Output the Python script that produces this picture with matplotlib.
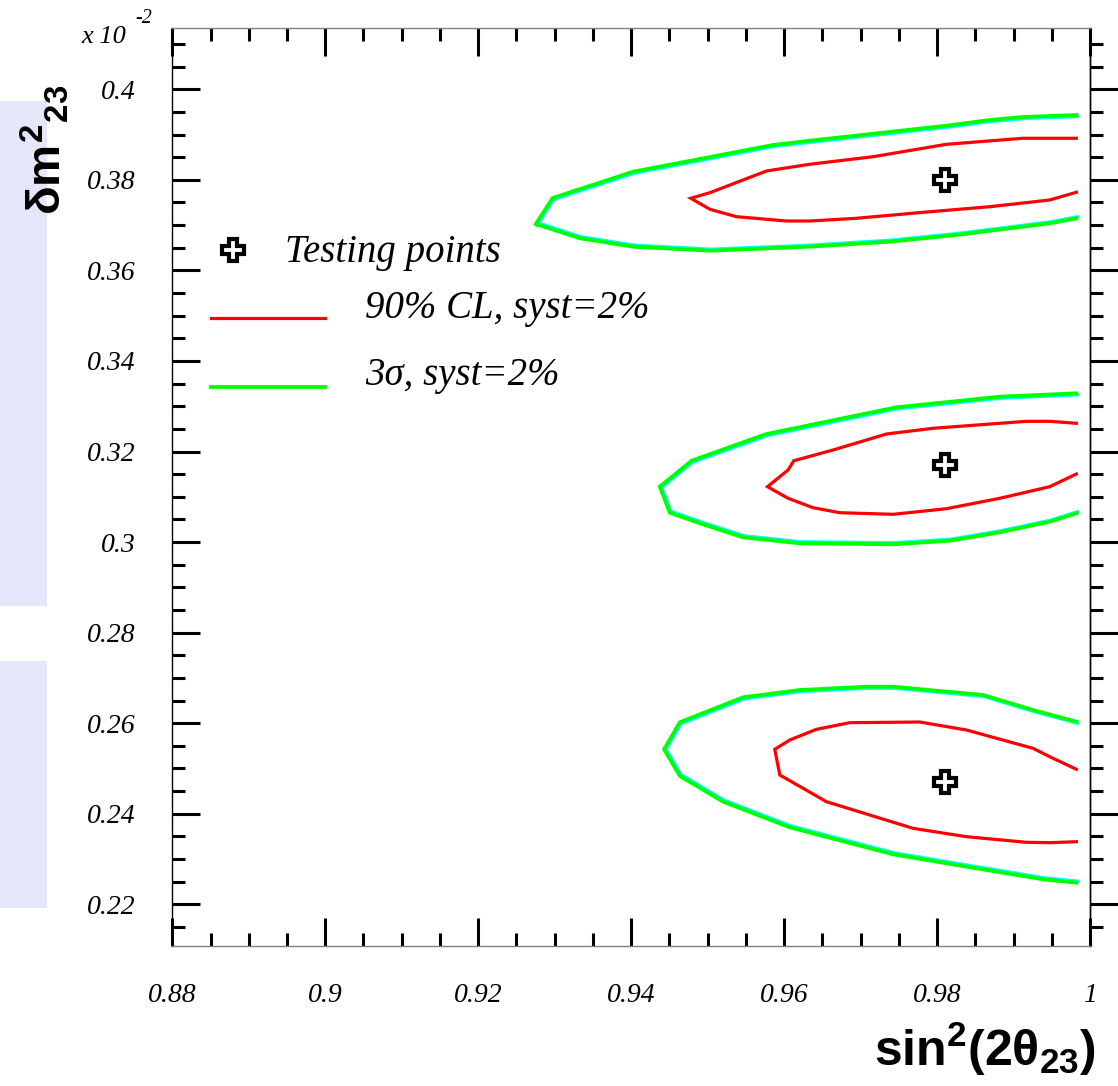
import matplotlib
matplotlib.use('Agg')
import matplotlib.pyplot as plt
import matplotlib.transforms as mtransforms
from matplotlib.patches import Rectangle
from matplotlib.ticker import MultipleLocator, FuncFormatter

plt.rcParams['font.family'] = ['Liberation Serif', 'DejaVu Serif']
plt.rcParams['font.style'] = 'italic'
plt.rcParams['mathtext.fontset'] = 'custom'
_bold = 'Liberation Sans:style=normal:weight=bold'
plt.rcParams['mathtext.rm'] = _bold
plt.rcParams['mathtext.it'] = _bold
plt.rcParams['mathtext.bf'] = _bold
plt.rcParams['mathtext.sf'] = _bold

# ---------------- data ----------------
test_x = [0.981, 0.981, 0.981]
test_y = [0.380, 0.317, 0.247]

# upper region (branches start at the tip)
top_green_up_x = [0.92754, 0.92973, 0.94026, 0.95856, 0.96336, 0.98123, 0.98689, 0.99120, 0.99822]
top_green_up_y = [0.37025, 0.37599, 0.38180, 0.38770, 0.38865, 0.39196, 0.39322, 0.39388, 0.39432]
top_green_lo_x = [0.92754, 0.93330, 0.94026, 0.95029, 0.96336, 0.97382, 0.98254, 0.99120, 0.99473, 0.99822]
top_green_lo_y = [0.37025, 0.36709, 0.36524, 0.36435, 0.36524, 0.36634, 0.36782, 0.36965, 0.37040, 0.37151]
top_red_up_x = [0.94780, 0.95029, 0.95770, 0.96336, 0.97163, 0.98123, 0.99120, 0.99822]
top_red_up_y = [0.37593, 0.37716, 0.38196, 0.38344, 0.38511, 0.38785, 0.38918, 0.38918]
top_red_lo_x = [0.94780, 0.95029, 0.95378, 0.96031, 0.96336, 0.96946, 0.97817, 0.98689, 0.99473, 0.99822]
top_red_lo_y = [0.37593, 0.37350, 0.37186, 0.37091, 0.37091, 0.37151, 0.37283, 0.37407, 0.37555, 0.37725]

# middle region
mid_green_up_x = [0.94375, 0.94790, 0.95770, 0.97469, 0.98820, 0.99822]
mid_green_up_y = [0.31223, 0.31797, 0.32387, 0.32977, 0.33211, 0.33286]
mid_green_lo_x = [0.94375, 0.94506, 0.94898, 0.95464, 0.96205, 0.97425, 0.98166, 0.98820, 0.99473, 0.99822]
mid_green_lo_y = [0.31223, 0.30649, 0.30415, 0.30105, 0.29973, 0.29951, 0.30030, 0.30216, 0.30450, 0.30636]
mid_red_up_x = [0.95783, 0.96052, 0.96127, 0.96641, 0.97339, 0.97948, 0.99169, 0.99473, 0.99822]
mid_red_up_y = [0.31223, 0.31592, 0.31797, 0.32034, 0.32387, 0.32513, 0.32667, 0.32667, 0.32623]
mid_red_lo_x = [0.95783, 0.96052, 0.96379, 0.96728, 0.97425, 0.98123, 0.98820, 0.99473, 0.99822]
mid_red_lo_y = [0.31223, 0.30967, 0.30759, 0.30649, 0.30613, 0.30737, 0.30967, 0.31223, 0.31503]

# lower region
low_green_up_x = [0.94431, 0.94637, 0.95464, 0.96205, 0.97077, 0.97425, 0.98601, 0.99255, 0.99822]
low_green_up_y = [0.25423, 0.26020, 0.26572, 0.26733, 0.26806, 0.26806, 0.26623, 0.26291, 0.26033]
low_green_lo_x = [0.94431, 0.94637, 0.95203, 0.96074, 0.97425, 0.98384, 0.99386, 0.99822]
low_green_lo_y = [0.25423, 0.24834, 0.24266, 0.23700, 0.23104, 0.22831, 0.22552, 0.22477]
low_red_up_x = [0.95878, 0.96074, 0.96424, 0.96859, 0.97774, 0.98384, 0.99255, 0.99473, 0.99822]
low_red_up_y = [0.25423, 0.25629, 0.25865, 0.26011, 0.26026, 0.25850, 0.25445, 0.25260, 0.24982]
low_red_lo_x = [0.95878, 0.95944, 0.96554, 0.97686, 0.98384, 0.99169, 0.99473, 0.99822]
low_red_lo_y = [0.25423, 0.24856, 0.24266, 0.23678, 0.23493, 0.23369, 0.23361, 0.23382]

xlim = (0.88, 1.0)
ylim = (0.21079, 0.41347)

legend_labels = ['Testing points', '90% CL, syst=2%', '3\u03c3, syst=2%']

# ---------------- figure ----------------
W, H = 1118, 1086
fig = plt.figure(figsize=(W / 100, H / 100), dpi=100)
fig.patch.set_facecolor('white')

# lavender side bands
for (y0, y1) in [(100.7, 605.7), (660.7, 907.7)]:
    fig.patches.append(Rectangle((0, 1 - y1 / H), 46.7 / W, (y1 - y0) / H,
                                 transform=fig.transFigure, facecolor='#E6E6FA',
                                 edgecolor='none', zorder=0))

ax = fig.add_axes([172.3 / W, 1 - 946 / H, (1090 - 172.3) / W, (946 - 28.3) / H])
ax.set_xlim(*xlim)
ax.set_ylim(*ylim)


def join(ux, uy, lx, ly):
    return list(ux[::-1]) + list(lx[1:]), list(uy[::-1]) + list(ly[1:])


off_up = mtransforms.offset_copy(ax.transData, fig=fig, x=1.0, y=-1.5, units='dots')
off_lo = mtransforms.offset_copy(ax.transData, fig=fig, x=1.0, y=1.5, units='dots')

sets = [
    (top_green_up_x, top_green_up_y, top_green_lo_x, top_green_lo_y,
     top_red_up_x, top_red_up_y, top_red_lo_x, top_red_lo_y),
    (mid_green_up_x, mid_green_up_y, mid_green_lo_x, mid_green_lo_y,
     mid_red_up_x, mid_red_up_y, mid_red_lo_x, mid_red_lo_y),
    (low_green_up_x, low_green_up_y, low_green_lo_x, low_green_lo_y,
     low_red_up_x, low_red_up_y, low_red_lo_x, low_red_lo_y),
]

for gux, guy, glx, gly, rux, ruy, rlx, rly in sets:
    ax.plot(gux, guy, color='#00FFFF', lw=2.4, transform=off_up, solid_joinstyle='miter', zorder=2)
    ax.plot(glx, gly, color='#00FFFF', lw=2.4, transform=off_lo, solid_joinstyle='miter', zorder=2)
    gx, gy = join(gux, guy, glx, gly)
    ax.plot(gx, gy, color='#00FF00', lw=2.7, solid_joinstyle='miter', zorder=3)
    rx, ry = join(rux, ruy, rlx, rly)
    ax.plot(rx, ry, color='#FF0000', lw=2.3, solid_joinstyle='miter', zorder=3)

mk = dict(linestyle='none', marker='P', markersize=16, markerfacecolor='white',
          markeredgecolor='black', markeredgewidth=3.0)
ax.plot(test_x, test_y, zorder=5, **mk)

# legend (drawn manually, ROOT-style)
ax.plot([0.0657], [0.7584], transform=ax.transAxes, clip_on=False, **mk)
ax.text(0.1228, 0.7455, legend_labels[0], transform=ax.transAxes, fontsize=28,
        ha='left', va='baseline')
ax.plot([0.0418, 0.1667], [0.684, 0.684], transform=ax.transAxes, color='#FF0000', lw=2.3)
ax.text(0.21, 0.684, legend_labels[1], transform=ax.transAxes, fontsize=28,
        ha='left', va='baseline')
ax.plot([0.0418, 0.1667], [0.6095, 0.6095], transform=ax.transAxes, color='#00FF00', lw=2.7)
ax.text(0.21, 0.611, legend_labels[2], transform=ax.transAxes, fontsize=28,
        ha='left', va='baseline')

# ticks
fmt = FuncFormatter(lambda v, p: f'{v:g}')
ax.xaxis.set_major_locator(MultipleLocator(0.02))
ax.xaxis.set_minor_locator(MultipleLocator(0.005))
ax.yaxis.set_major_locator(MultipleLocator(0.02))
ax.yaxis.set_minor_locator(MultipleLocator(0.005))
ax.xaxis.set_major_formatter(fmt)
ax.yaxis.set_major_formatter(fmt)
ax.tick_params(axis='x', which='both', direction='in', top=True, bottom=True,
               width=2.2, labelsize=20, pad=26.6)
ax.tick_params(axis='y', which='both', direction='in', left=True, right=False,
               width=2.2, labelsize=20, pad=26.6)
ax.tick_params(which='major', length=20)
ax.tick_params(which='minor', length=9.7)

sec = ax.secondary_yaxis('right')
sec.yaxis.set_major_locator(MultipleLocator(0.02))
sec.yaxis.set_minor_locator(MultipleLocator(0.005))
sec.tick_params(which='both', direction='out', width=2.2, labelright=False)
sec.tick_params(which='major', length=20)
sec.tick_params(which='minor', length=9.7)
sec.spines['right'].set_color('black')
sec.spines['right'].set_linewidth(1.0)

for s in ['top', 'bottom']:
    ax.spines[s].set_color('#808080')
    ax.spines[s].set_linewidth(1.0)
for s in ['left', 'right']:
    ax.spines[s].set_color('black')
    ax.spines[s].set_linewidth(1.0)

# exponent label
fig.text(81.7 / W, 1 - 43.3 / H, 'x 10', fontsize=19, ha='left', va='baseline')
fig.text(135 / W, 1 - 23.3 / H, '-2', fontsize=14.5, ha='left', va='baseline')

# axis titles
fig.text(45 / W, 1 - 150 / H, r'$\delta m^{2}{}_{23}$', rotation=90,
         ha='center', va='center', fontsize=34)
fig.text(1095 / W, 1 - 1066 / H, r'$\mathrm{sin}^{2}(2\theta_{23})$',
         ha='right', va='baseline', fontsize=36)

fig.savefig('out.png', dpi=100)
